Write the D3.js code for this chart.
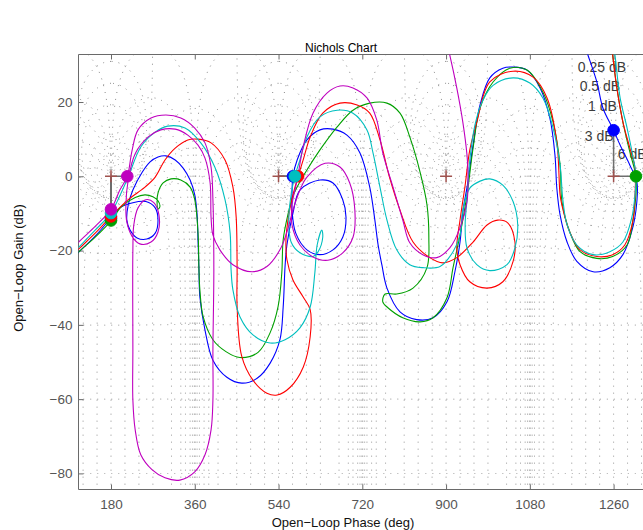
<!DOCTYPE html>
<html><head><meta charset="utf-8">
<script src="https://cdn.jsdelivr.net/npm/d3@7"></script>
<style>
body{margin:0;background:#fff;}
svg{display:block;font-family:"Liberation Sans",Arial,Helvetica,sans-serif;}
</style>
</head><body>
<svg id="c" width="643" height="530"></svg>
<script>
// ---------------- data ----------------
const xTicks = [180, 360, 540, 720, 900, 1080, 1260];
const yTicks = [-80, -60, -40, -20, 0, 20];
const gridGains = [6, 3, 1, 0.5, 0.25, 0, -1, -3, -6, -12, -20, -40, -60, -80, -100];
const gridPhases = [1, 5, 10, 20, 30, 50, 90, 120, 150, 180, -1, -5, -10, -20, -30, -50, -90, -120, -150];
const gridLabelText = ["0.25 dB", "0.5 dB", "1 dB", "3 dB", "6 dB"];
const gridLabelPhase = [1183, 1187, 1205, 1198, 1269];
const gridLabelGain = [29.5, 24.4, 19.0, 10.7, 6.0];
const criticalPhases = [180, 540, 900, 1260];

const seriesNames = ["blue", "green", "red", "cyan", "magenta"];
const seriesColors = ["#0000ff", "#00a000", "#ff0000", "#00bfbf", "#bf00bf"];

const blueData = [[92,-22.8],[109,-20.6],[146,-16.1],[180,-11.2],[199,-8.5],[227,-7.1],[255,-6.8],[275,-8.5],[281,-11.8],[275,-15.3],[257,-16.9],[236,-16.6],[221,-14.5],[214,-11.8],[217,-7.7],[227,-3.7],[247,1.1],[264,3.9],[281,5.2],[298,5.5],[318,4.4],[335,2.2],[350,-1.0],[360,-5.0],[365,-10.4],[367,-17.1],[369,-25.1],[371,-32.5],[382,-41.4],[399,-49.5],[429,-54.1],[461,-55.7],[494,-54.4],[522,-50.3],[543,-44.0],[550,-35.2],[554,-24.3],[558,-18.5],[571,-9.9],[586,-3.7],[629,-1.0],[657,-1.8],[678,-6.3],[685,-11.0],[678,-16.4],[657,-19.8],[629,-21.1],[601,-19.8],[577,-15.3],[569,-9.1],[569,-4.2],[571,0],[580,4.4],[601,9.8],[629,12.5],[657,12.7],[687,11.1],[715,6.3],[736,-2.9],[747,-11.8],[754,-18.5],[762,-23.8],[773,-30.1],[801,-36.5],[837,-38.6],[872,-38.1],[902,-33.8],[919,-25.7],[930,-17.7],[936,-9.6],[947,-1.5],[958,8.4],[973,19.2],[994,26.5],[1022,29.1],[1044,29.4],[1074,28.6],[1102,23.8],[1123,15.7],[1134,5.7],[1138,-3.2],[1145,-10.4],[1160,-17.7],[1181,-22.9],[1216,-25.7],[1252,-24.6],[1280,-21.1],[1301,-13.9],[1310,-6.8],[1310,-1.5],[1295,3.0],[1274,8.4],[1260,12.4],[1237,18.4],[1224,25.4],[1205,32.6],[1194,36.7]];

const greenData = [[92,-23.0],[109,-20.6],[146,-16.4],[180,-12.0],[202,-8.2],[232,-5.7],[253,-5.0],[270,-5.5],[281,-6.6],[285,-8.2],[281,-8.8],[279,-7.1],[281,-4.5],[292,-1.8],[309,-0.7],[330,-1.0],[350,-2.9],[360,-6.3],[367,-15.3],[369,-25.1],[371,-30.6],[378,-37.8],[399,-44.0],[427,-47.2],[457,-48.8],[496,-47.4],[522,-42.1],[539,-35.1],[547,-26.0],[550,-17.1],[560,-10.4],[571,-5.3],[582,-2.4],[601,1.7],[629,7.1],[666,13.3],[700,17.8],[736,19.7],[773,19.7],[801,17.0],[822,10.6],[844,1.2],[859,-7.7],[863,-16.6],[859,-24.6],[829,-30.1],[794,-31.7],[769,-31.7],[764,-33.8],[775,-35.4],[807,-38.1],[844,-39.2],[872,-38.1],[902,-32.7],[915,-24.6],[930,-15.8],[945,-5.0],[958,7.6],[973,18.4],[1001,25.4],[1037,29.1],[1074,28.6],[1108,22.7],[1130,14.6],[1145,3.0],[1149,-6.8],[1166,-15.0],[1188,-20.3],[1224,-22.1],[1258,-21.6],[1289,-18.5],[1301,-12.3],[1308,-5.0],[1308,0],[1295,6.5],[1280,14.6],[1267,23.8],[1258,32.6],[1254,36.7]];

const redData = [[92,-22.0],[109,-19.8],[146,-15.3],[180,-10.8],[217,-6.3],[253,-2.9],[275,-0.2],[296,4.4],[318,7.6],[345,9.8],[367,10.0],[395,9.0],[425,4.4],[442,-2.9],[449,-11.0],[451,-25.1],[451,-35.1],[461,-48.5],[485,-54.9],[515,-58.4],[537,-58.9],[565,-56.8],[593,-51.4],[608,-43.2],[608,-35.9],[593,-32.5],[571,-27.9],[558,-22.4],[556,-17.1],[562,-10.4],[571,-5.0],[582,0],[593,4.4],[608,10.6],[635,17.0],[672,19.7],[709,19.2],[736,17.0],[758,9.8],[779,-0.5],[801,-9.1],[829,-17.7],[865,-21.9],[893,-23.3],[923,-21.9],[958,-17.7],[988,-13.1],[1011,-11.8],[1033,-12.6],[1048,-17.7],[1044,-22.9],[1022,-28.4],[988,-30.1],[951,-28.4],[930,-23.8],[923,-19.3],[930,-11.8],[941,-2.4],[951,7.1],[966,14.6],[994,25.4],[1044,28.3],[1087,26.7],[1117,21.1],[1138,9.2],[1145,-5.0],[1149,-7.8],[1166,-15.1],[1188,-19.8],[1224,-21.6],[1258,-21.1],[1284,-18.5],[1301,-12.3],[1306,-5.0],[1306,2.2],[1295,7.6],[1280,14.6],[1267,23.8],[1258,32.6],[1254,36.7]];

const cyanData = [[92,-21.5],[109,-19.3],[146,-14.5],[180,-9.9],[195,-6.3],[217,-0.2],[244,7.9],[275,11.9],[302,13.5],[339,13.0],[373,9.0],[403,2.5],[425,-6.3],[436,-15.3],[438,-25.1],[442,-30.6],[457,-37.8],[485,-42.7],[522,-44.9],[554,-44.0],[586,-40.8],[608,-35.2],[618,-26.0],[623,-18.5],[633,-14.5],[635,-16.4],[625,-20.3],[614,-21.6],[586,-20.6],[567,-17.7],[562,-11.8],[567,-5.0],[575,0],[586,4.4],[601,10.6],[629,16.0],[666,17.8],[700,17.0],[730,12.5],[743,6.3],[758,-2.9],[773,-11.8],[794,-19.8],[822,-23.8],[850,-24.6],[887,-24.3],[915,-20.3],[930,-15.8],[936,-9.1],[951,-3.2],[973,-1.3],[994,-0.7],[1022,-2.4],[1044,-6.8],[1054,-13.1],[1048,-19.3],[1031,-23.8],[994,-25.4],[966,-23.8],[945,-19.3],[941,-13.1],[945,-6.3],[951,4.4],[962,13.8],[979,20.5],[1001,24.5],[1044,26.5],[1080,25.1],[1108,21.1],[1130,13.0],[1145,3.0],[1151,-6.3],[1160,-13.1],[1181,-18.5],[1216,-21.1],[1252,-20.3],[1280,-17.7],[1299,-11.2],[1306,-5.0],[1308,0.3],[1301,5.7],[1289,13.0],[1274,21.1],[1263,32.6],[1258,36.7]];

const magentaData = [[92,-20.4],[109,-17.9],[146,-13.5],[180,-8.9],[199,-3.7],[215,0],[225,6.8],[238,12.5],[266,15.7],[298,16.5],[330,15.7],[360,13.0],[382,9.0],[395,2.5],[399,-6.3],[401,-25.1],[399,-46.7],[399,-60.2],[395,-68.3],[382,-75.0],[360,-79.6],[328,-81.8],[296,-81.2],[268,-79.0],[244,-75.0],[232,-68.3],[227,-60.2],[227,-46.7],[227,-19.8],[229,-13.1],[238,-8.5],[255,-6.3],[272,-7.1],[283,-10.4],[281,-15.0],[266,-17.7],[242,-18.2],[225,-16.1],[214,-12.3],[212,-7.7],[217,-1.0],[232,6.1],[260,10.6],[287,12.5],[318,12.7],[345,11.1],[367,8.4],[382,4.9],[393,-1.8],[395,-11.0],[399,-15.8],[414,-19.8],[442,-23.8],[483,-25.7],[515,-24.3],[543,-19.8],[558,-15.0],[571,-9.1],[586,-3.7],[601,-0.2],[640,3.5],[672,2.5],[693,-1.8],[704,-9.1],[700,-16.4],[678,-20.6],[646,-22.6],[614,-21.7],[586,-18.5],[569,-13.1],[569,-7.7],[580,-1.0],[593,7.9],[614,17.0],[644,22.4],[672,24.3],[700,23.8],[730,21.1],[751,15.2],[764,6.3],[786,-2.9],[807,-11.8],[822,-17.9],[850,-21.1],[880,-21.9],[908,-19.3],[930,-13.9],[945,-6.8],[947,1.2],[945,5.7],[936,14.6],[923,23.8],[908,32.6],[900,36.7]];

const seriesData = [blueData, greenData, redData, cyanData, magentaData];

// stability-margin markers: series index, crossing phase, gain, reference critical phase
const marginSeries = [0, 0, 0, 1, 1, 2, 2, 3, 3, 4, 4];
const marginPhase  = [180, 571, 1260, 180, 1308, 180, 582, 180, 575, 180, 215];
const marginGain   = [-11.3, 0, 12.4, -11.9, 0, -10.8, 0, -9.9, 0, -8.9, 0];
const marginCrit   = [180, 540, 1260, 180, 1260, 180, 540, 180, 540, 180, 180];

// ---------------- layout ----------------
const svg = d3.select("#c");
const L = 78.5, T = 54.5, B = 489.5, R = 720;
const x = d3.scaleLinear().domain([180, 1260]).range([111, 613.6]);
const y = d3.scaleLinear().domain([0, -80]).range([176.3, 473.4]);

svg.append("defs").append("clipPath").attr("id", "clip")
  .append("rect").attr("x", L).attr("y", T).attr("width", R - L).attr("height", B - T);

// ---------------- Nichols grid ----------------
const gGrid = svg.append("g").attr("clip-path", "url(#clip)");
const gridLine = d3.line().x(d => x(d[0])).y(d => y(Math.max(d[1], -150)));
function gOf(tr, ti) {
  const dr = 1 - tr, di = -ti, den = dr * dr + di * di;
  const gr = (tr * dr + ti * di) / den, gi = (ti * dr - tr * di) / den;
  return [Math.atan2(gi, gr) * 180 / Math.PI, 10 * Math.log10(gr * gr + gi * gi)];
}
function unwrap(p) {
  for (let i = 1; i < p.length; i++) {
    let d = p[i][0] - p[i - 1][0];
    while (d > 180) { p[i][0] -= 360; d -= 360; }
    while (d < -180) { p[i][0] += 360; d += 360; }
  }
  return p;
}
function addReplicas(p) {
  const ext = d3.extent(p, d => d[0]);
  for (let k = -6; k <= 6; k++) {
    const off = 360 * k;
    if (ext[1] + off < 90 || ext[0] + off > 1450) continue;
    gGrid.append("path")
      .attr("d", gridLine(p.map(d => [d[0] + off, d[1]])))
      .attr("fill", "none").attr("stroke", "#8a8a8a")
      .attr("stroke-width", 1).attr("stroke-dasharray", "1 6");
  }
}
gridGains.forEach(gdb => {
  const m = Math.pow(10, gdb / 20), N = 3000, eps = gdb === 0 ? 1e-3 : 0, p = [];
  for (let i = 0; i <= N; i++) {
    const th = eps + (2 * Math.PI - 2 * eps) * i / N;
    p.push(gOf(m * Math.cos(th), m * Math.sin(th)));
  }
  addReplicas(unwrap(p));
});
gridPhases.forEach(ph => {
  const psi = ph * Math.PI / 180, N = 2000, p = [];
  for (let i = 0; i <= N; i++) {
    const r = Math.pow(10, -5 + 10 * i / N);
    p.push(gOf(r * Math.cos(psi), r * Math.sin(psi)));
  }
  addReplicas(unwrap(p));
});

// grid labels
svg.append("g").selectAll("text").data(gridLabelText).join("text")
  .attr("x", (d, i) => x(gridLabelPhase[i])).attr("y", (d, i) => y(gridLabelGain[i]))
  .attr("dy", "0.35em").attr("font-size", 14).attr("fill", "#3c3c3c").text(d => d);

// ---------------- frame and axes ----------------
const frame = svg.append("g").attr("stroke", "#6a6a6a").attr("stroke-width", 1);
frame.append("line").attr("x1", L).attr("x2", L).attr("y1", T).attr("y2", B);
frame.append("line").attr("x1", L).attr("x2", 643).attr("y1", T).attr("y2", T);
frame.append("line").attr("x1", L).attr("x2", 643).attr("y1", B).attr("y2", B);

const xb = svg.append("g").attr("transform", `translate(0,${B})`)
  .call(d3.axisBottom(x).tickValues(xTicks).tickSizeInner(-5).tickSizeOuter(0).tickPadding(10).tickFormat(d3.format("d")));
const xt = svg.append("g").attr("transform", `translate(0,${T})`)
  .call(d3.axisTop(x).tickValues(xTicks).tickSizeInner(-5).tickSizeOuter(0).tickFormat(""));
const yl = svg.append("g").attr("transform", `translate(${L},0)`)
  .call(d3.axisLeft(y).tickValues(yTicks).tickSizeInner(-5).tickSizeOuter(0).tickPadding(6));
[xb, xt, yl].forEach(g => {
  g.select(".domain").remove();
  g.selectAll(".tick line").attr("stroke", "#6a6a6a");
  g.selectAll("text").attr("font-size", 13.5).attr("fill", "#555").attr("font-family", "Liberation Sans, Arial, sans-serif");
});

// titles
svg.append("text").attr("x", 341).attr("y", 52).attr("text-anchor", "middle")
  .attr("font-size", 12).attr("fill", "#000").text("Nichols Chart");
svg.append("text").attr("x", 343).attr("y", 527).attr("text-anchor", "middle")
  .attr("font-size", 13).attr("fill", "#111").text("Open\u2212Loop Phase (deg)");
svg.append("text").attr("transform", "translate(23,268) rotate(-90)").attr("text-anchor", "middle")
  .attr("font-size", 13).attr("fill", "#111").text("Open\u2212Loop Gain (dB)");

// ---------------- plot content ----------------
const gPlot = svg.append("g").attr("clip-path", "url(#clip)");

// margin lines
gPlot.append("g").selectAll("line").data(marginSeries).join("line")
  .attr("x1", (d, i) => x(marginCrit[i])).attr("y1", y(0))
  .attr("x2", (d, i) => x(marginPhase[i])).attr("y2", (d, i) => y(marginGain[i]))
  .attr("stroke", "#6e6e6e").attr("stroke-width", 1.5);

// critical points
const plus = gPlot.append("g").attr("stroke", "#a0524e").attr("stroke-width", 1.5);
criticalPhases.forEach(p => {
  plus.append("line").attr("x1", x(p) - 6).attr("x2", x(p) + 6).attr("y1", y(0)).attr("y2", y(0));
  plus.append("line").attr("x1", x(p)).attr("x2", x(p)).attr("y1", y(0) - 6).attr("y2", y(0) + 6);
});

// response curves
const curve = d3.line().x(d => x(d[0])).y(d => y(d[1])).curve(d3.curveCatmullRom.alpha(0.5));
seriesData.forEach((s, i) => {
  gPlot.append("path").attr("d", curve(s)).attr("fill", "none")
    .attr("stroke", seriesColors[i]).attr("stroke-width", 1.1);
});

// margin dots
gPlot.append("g").selectAll("circle").data(marginSeries).join("circle")
  .attr("cx", (d, i) => x(marginPhase[i])).attr("cy", (d, i) => y(marginGain[i]))
  .attr("r", 5.8).attr("fill", d => seriesColors[d]).attr("stroke", d => seriesColors[d]);
</script>
</body></html>
